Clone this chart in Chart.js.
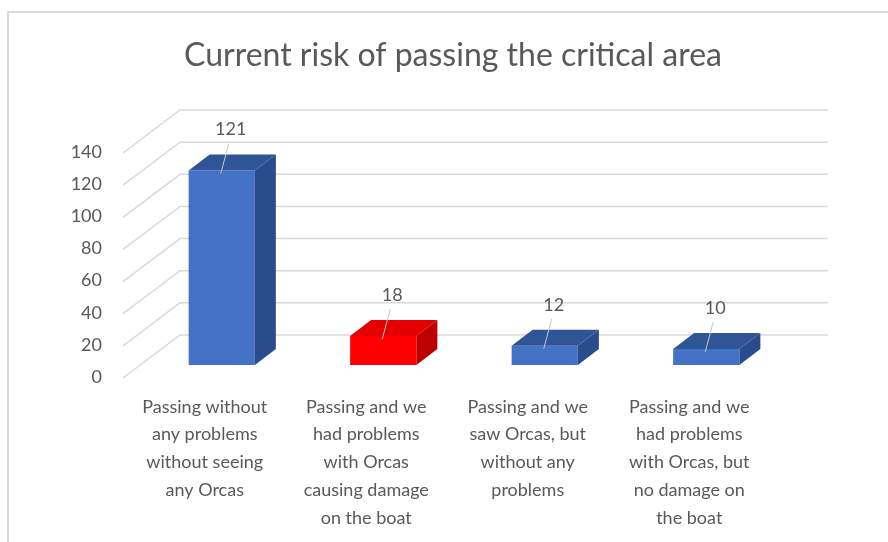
<!DOCTYPE html>
<html>
<head>
<meta charset="utf-8">
<script src="https://cdn.jsdelivr.net/npm/chart.js@4.4.1/dist/chart.umd.min.js"></script>
<style>
  html, body { margin: 0; padding: 0; background: #fff; }
  canvas { display: block; }
</style>
</head>
<body>
<canvas id="chart" width="888" height="542"></canvas>
<script>
const chartTitle = 'Current risk of passing the critical area';
const categories = [
  ['Passing without', 'any problems', 'without seeing', 'any Orcas'],
  ['Passing and we', 'had problems', 'with Orcas', 'causing damage', 'on the boat'],
  ['Passing and we', 'saw Orcas, but', 'without any', 'problems'],
  ['Passing and we', 'had problems', 'with Orcas, but', 'no damage on', 'the boat'],
];
const counts = [121, 18, 12, 10];
const yTicks = [0, 20, 40, 60, 80, 100, 120, 140];

const FONT = 'Lato, "Open Sans", sans-serif';
const TEXT = '#595959';

// faces of the fake 3d bars: [front, top, side]
const blueFaces = ['#4472C4', '#2F5597', '#2A4B8C'];
const redFaces = ['#FF0000', '#E40000', '#BC0000'];
const faces = counts.map((v, i) => (i === 1 ? redFaces : blueFaces));

const DEPTH_X = 21, DEPTH_Y = -16;

const frame3d = {
  id: 'frame3d',
  beforeDraw(chart) {
    const ctx = chart.ctx;
    ctx.save();
    ctx.strokeStyle = '#d9d9d9';
    ctx.lineWidth = 2;
    ctx.beginPath();
    ctx.moveTo(8, 542);
    ctx.lineTo(8, 12);
    ctx.lineTo(888, 12);
    ctx.stroke();

    // title, centred over the whole plot incl. the back wall
    ctx.fillStyle = TEXT;
    ctx.font = '32px ' + FONT;
    ctx.textAlign = 'center';
    ctx.textBaseline = 'middle';
    ctx.fillText(chartTitle, chart.chartArea.left + 312, 56);
    ctx.restore();
  },
  beforeDatasetsDraw(chart) {
    const { ctx, chartArea, scales } = chart;
    const y = scales.y;
    const x0 = chartArea.left - 18, x1 = chartArea.left + 39, xEnd = chartArea.right + 41;
    ctx.save();
    ctx.strokeStyle = '#d9d9d9';
    ctx.lineWidth = 1.5;
    yTicks.forEach((v) => {
      const py = y.getPixelForValue(v);
      ctx.beginPath();
      ctx.moveTo(x0, py + 13);
      ctx.lineTo(x1, py - 30);
      ctx.lineTo(xEnd, py - 30);
      ctx.stroke();
    });
    ctx.restore();
  },
  afterDatasetsDraw(chart) {
    const ctx = chart.ctx;
    const meta = chart.getDatasetMeta(0);
    ctx.save();
    meta.data.forEach((bar, i) => {
      const p = bar.getProps(['x', 'y', 'base', 'width'], true);
      const l = p.x - p.width / 2, r = p.x + p.width / 2;
      const t = p.y, b = p.base;
      const f = faces[i];
      // top face
      ctx.fillStyle = f[1];
      ctx.beginPath();
      ctx.moveTo(l, t);
      ctx.lineTo(l + DEPTH_X, t + DEPTH_Y);
      ctx.lineTo(r + DEPTH_X, t + DEPTH_Y);
      ctx.lineTo(r, t);
      ctx.closePath();
      ctx.fill();
      // side face
      ctx.fillStyle = f[2];
      ctx.beginPath();
      ctx.moveTo(r, t);
      ctx.lineTo(r + DEPTH_X, t + DEPTH_Y);
      ctx.lineTo(r + DEPTH_X, b + DEPTH_Y);
      ctx.lineTo(r, b);
      ctx.closePath();
      ctx.fill();

      // value label with leader line
      const lx = p.x + 9, ly = t - 41;
      ctx.strokeStyle = '#c8c8c8';
      ctx.lineWidth = 1;
      ctx.beginPath();
      ctx.moveTo(lx - 2, ly + 14);
      ctx.lineTo(p.x - 1, t + 3);
      ctx.stroke();
      ctx.fillStyle = TEXT;
      ctx.font = '18px ' + FONT;
      ctx.textAlign = 'center';
      ctx.textBaseline = 'middle';
      ctx.fillText(String(counts[i]), lx, ly);
    });
    ctx.restore();
  },
};

new Chart(document.getElementById('chart'), {
  type: 'bar',
  data: {
    labels: categories,
    datasets: [{
      data: counts,
      backgroundColor: faces.map((f) => f[0]),
      borderWidth: 0,
      barPercentage: 0.41,
      categoryPercentage: 1,
    }],
  },
  options: {
    responsive: false,
    animation: false,
    devicePixelRatio: 1,
    layout: { padding: { top: 140, left: 0, right: 101, bottom: 0 } },
    plugins: {
      legend: { display: false },
      tooltip: { enabled: false },
      title: { display: false },
    },
    scales: {
      x: {
        grid: { display: false, drawTicks: false },
        border: { display: false },
        ticks: {
          color: TEXT,
          font: { family: FONT, size: 18, lineHeight: 1.54 },
          labelOffset: -17,
          padding: 28,
          maxRotation: 0,
          autoSkip: false,
        },
        afterFit: (s) => { s.height = 177; },
      },
      y: {
        min: 0,
        max: 140,
        grid: { display: false, drawTicks: false },
        border: { display: false },
        ticks: {
          color: TEXT,
          font: { family: FONT, size: 18 },
          padding: 39,
          labelOffset: 12,
        },
        afterBuildTicks: (s) => { s.ticks = yTicks.map((v) => ({ value: v })); },
        afterFit: (s) => { s.width = 141; },
      },
    },
  },
  plugins: [frame3d],
});
</script>
</body>
</html>
